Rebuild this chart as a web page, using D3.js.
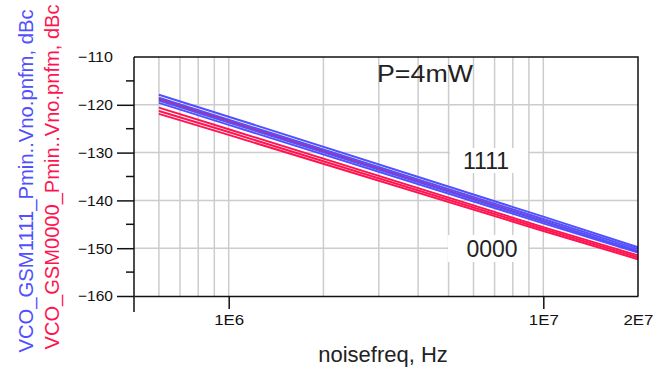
<!DOCTYPE html>
<html>
<head>
<meta charset="utf-8">
<script src="https://cdn.jsdelivr.net/npm/d3@7"></script>
<style>
  html, body { margin: 0; padding: 0; background: #fff; }
  svg { display: block; font-family: Arial, "Liberation Sans", sans-serif; }
</style>
</head>
<body>
<svg id="chart" width="657" height="369"></svg>
<script>
const freqs = [6e5, 1e6, 1e7, 2e7];

// phase noise, dBc — code 1111 (blue) and 0000 (red)
const noise1111 = [
  [-117.9, -122.5, -143.4, -149.8],
  [-118.5, -123.1, -143.9, -150.2],
  [-119.1, -123.7, -144.4, -150.6],
  [-119.6, -124.2, -144.8, -150.9]
];
const noise0000 = [
  [-118.8, -123.4, -144.3, -150.7],
  [-120.6, -125.1, -145.6, -151.5],
  [-121.3, -125.7, -146.0, -151.9],
  [-121.9, -126.3, -146.4, -152.3]
];

const yTicks = [-110, -120, -130, -140, -150, -160];
const yMinorTicks = [-115, -125, -135, -145, -155];
const xTicks = [1e6, 1e7, 2e7];
const xTickLabels = ['1E6', '1E7', '2E7'];
const xGrid = [6e5, 7e5, 8e5, 9e5, 1e6, 2e6, 3e6, 4e6, 5e6, 6e6, 7e6, 8e6, 9e6, 1e7];

const blue = '#5050ff';
const red = '#ff1450';

const svg = d3.select('#chart');
const margin = { top: 57, right: 19, bottom: 73, left: 134 };
const width = +svg.attr('width');
const height = +svg.attr('height');

const x = d3.scaleLog()
    .domain([5e5, 2e7])
    .range([margin.left, width - margin.right]);
const y = d3.scaleLinear()
    .domain([-160, -110])
    .range([height - margin.bottom, margin.top]);

// grid
const grid = svg.append('g')
    .attr('stroke', '#cccccc')
    .attr('stroke-width', 1.5);
grid.selectAll('line.v')
    .data(xGrid)
  .enter().append('line')
    .attr('x1', d => x(d)).attr('x2', d => x(d))
    .attr('y1', y(-110)).attr('y2', y(-160));
grid.selectAll('line.h')
    .data(yTicks.filter(d => d !== -110 && d !== -160))
  .enter().append('line')
    .attr('x1', x(5e5)).attr('x2', x(2e7))
    .attr('y1', d => y(d)).attr('y2', d => y(d));

// curves
const line = d3.line()
    .x((d, i) => x(freqs[i]))
    .y(d => y(d));

svg.append('g')
    .attr('fill', 'none')
    .attr('stroke', red)
    .attr('stroke-width', 2)
  .selectAll('path')
    .data(noise0000)
  .enter().append('path')
    .attr('d', line);

svg.append('g')
    .attr('fill', 'none')
    .attr('stroke', blue)
    .attr('stroke-width', 2)
  .selectAll('path')
    .data(noise1111)
  .enter().append('path')
    .attr('d', line);

// frame: top and right
svg.append('path')
    .attr('fill', 'none')
    .attr('stroke', '#111')
    .attr('stroke-width', 1.5)
    .attr('d', `M${x(5e5)},${y(-110)}H${x(2e7)}V${y(-160)}`);

// left axis
const yAxis = svg.append('g')
    .attr('transform', `translate(${x(5e5)},0)`)
    .call(d3.axisLeft(y).tickValues(yTicks).tickSize(17).tickSizeOuter(0).tickPadding(4));
yAxis.select('.domain').remove();
yAxis.selectAll('.tick line')
    .attr('stroke', '#111')
    .attr('stroke-width', 1.5)
    .attr('x2', d => d === -110 ? 0 : -17);
yAxis.selectAll('.tick text')
    .attr('fill', '#111')
    .style('font-size', '15px')
    .attr('textLength', 35)
    .attr('lengthAdjust', 'spacingAndGlyphs');
yAxis.selectAll('line.minor')
    .data(yMinorTicks)
  .enter().append('line')
    .attr('stroke', '#111')
    .attr('stroke-width', 1.5)
    .attr('x1', -8).attr('x2', 0)
    .attr('y1', d => y(d)).attr('y2', d => y(d));
yAxis.append('line')
    .attr('stroke', '#111')
    .attr('stroke-width', 1.5)
    .attr('x1', 0).attr('x2', 0)
    .attr('y1', y(-110)).attr('y2', y(-160) + 16);

// bottom axis
const xAxis = svg.append('g')
    .attr('transform', `translate(0,${y(-160)})`)
    .call(d3.axisBottom(x).tickValues(xTicks)
      .tickFormat((d, i) => xTickLabels[i]).tickSize(13).tickSizeOuter(0).tickPadding(5));
xAxis.select('.domain')
    .attr('stroke', '#111')
    .attr('stroke-width', 1.5);
xAxis.selectAll('.tick line')
    .attr('stroke', '#111')
    .attr('stroke-width', 1.5)
    .attr('y2', d => d === 2e7 ? 0 : 13);
xAxis.selectAll('.tick text')
    .attr('fill', '#111')
    .style('font-size', '15px')
    .attr('textLength', 30)
    .attr('lengthAdjust', 'spacingAndGlyphs');

// axis titles
svg.append('text')
    .attr('x', 383)
    .attr('y', 362)
    .attr('text-anchor', 'middle')
    .attr('fill', '#222')
    .style('font-size', '22px')
    .text('noisefreq, Hz');

svg.append('text')
    .attr('transform', 'translate(33,181) rotate(-90)')
    .attr('text-anchor', 'middle')
    .attr('fill', blue)
    .style('font-size', '20px')
    .attr('textLength', 343)
    .attr('lengthAdjust', 'spacingAndGlyphs')
    .text('VCO_GSM1111_Pmin..Vno.pnfm, dBc');
svg.append('text')
    .attr('transform', 'translate(59,177) rotate(-90)')
    .attr('text-anchor', 'middle')
    .attr('fill', red)
    .style('font-size', '20px')
    .attr('textLength', 345)
    .attr('lengthAdjust', 'spacingAndGlyphs')
    .text('VCO_GSM0000_Pmin..Vno.pnfm, dBc');

// annotations
svg.append('text')
    .attr('x', 425)
    .attr('y', 82)
    .attr('text-anchor', 'middle')
    .attr('fill', '#222')
    .style('font-size', '23px')
    .attr('textLength', 96)
    .attr('lengthAdjust', 'spacingAndGlyphs')
    .text('P=4mW');

const labels = [
  { text: '1111', cx: 486, base: 168.5, box: [450, 148, 78, 25] },
  { text: '0000', cx: 492, base: 256.5, box: [448, 235, 80, 27] }
];
labels.forEach(l => {
  svg.append('rect')
      .attr('x', l.box[0]).attr('y', l.box[1])
      .attr('width', l.box[2]).attr('height', l.box[3])
      .attr('fill', '#fff');
  svg.append('text')
      .attr('x', l.cx)
      .attr('y', l.base)
      .attr('text-anchor', 'middle')
      .attr('fill', '#222')
      .style('font-size', '23px')
      .text(l.text);
});
</script>
</body>
</html>
